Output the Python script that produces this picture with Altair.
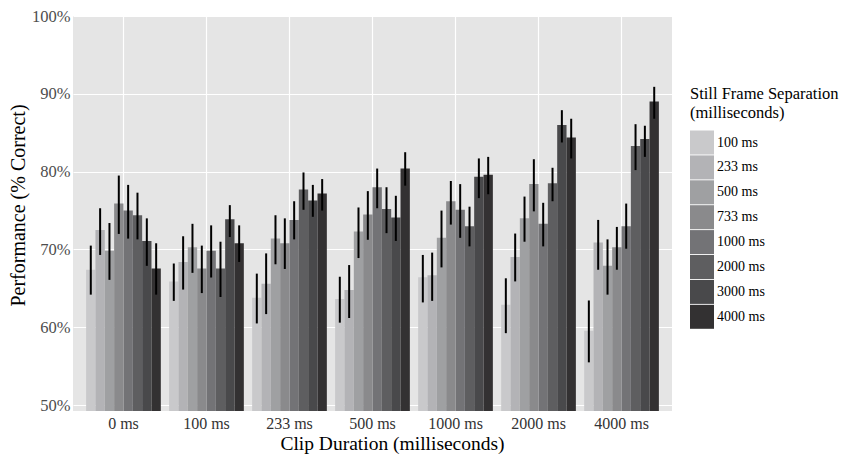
import altair as alt
import pandas as pd

clip_durations = ["0 ms", "100 ms", "233 ms", "500 ms", "1000 ms", "2000 ms", "4000 ms"]
separations = ["100 ms", "233 ms", "500 ms", "733 ms", "1000 ms", "2000 ms", "3000 ms", "4000 ms"]

# mean performance (% correct), one list per clip duration, ordered by separation
perf_0 = [67.4, 72.5, 69.85, 75.9, 75.0, 74.4, 71.1, 67.55]
perf_100 = [65.9, 68.4, 70.3, 67.55, 69.85, 67.55, 73.9, 70.8]
perf_233 = [63.8, 65.6, 71.4, 70.8, 73.8, 77.7, 76.3, 77.2]
perf_500 = [63.65, 64.8, 72.3, 74.5, 78.0, 75.2, 74.1, 80.4]
perf_1000 = [66.45, 66.7, 71.5, 76.2, 75.1, 73.0, 79.35, 79.6]
perf_2000 = [62.9, 69.05, 74.0, 78.4, 73.3, 78.5, 86.0, 84.4]
perf_4000 = [59.55, 70.9, 67.9, 70.3, 73.0, 83.3, 84.2, 89.0]

# error bar lower / upper ends
lo_0 = [64.2, 69.3, 66.1, 72.0, 71.4, 71.3, 67.9, 64.2]
hi_0 = [70.5, 75.3, 73.4, 79.5, 78.3, 77.3, 74.0, 70.8]
lo_100 = [63.4, 64.85, 67.0, 64.4, 66.4, 63.9, 71.6, 68.4]
hi_100 = [68.2, 71.7, 73.3, 70.5, 73.1, 71.0, 75.7, 73.1]
lo_233 = [60.5, 61.7, 68.1, 67.5, 71.3, 75.1, 74.2, 75.0]
hi_233 = [66.9, 69.5, 74.4, 74.0, 76.2, 79.9, 78.3, 79.05]
lo_500 = [60.6, 61.2, 68.9, 71.25, 75.3, 72.1, 71.1, 78.2]
hi_500 = [66.5, 68.0, 75.4, 77.5, 80.4, 78.0, 76.9, 82.5]
lo_1000 = [63.2, 63.4, 67.7, 73.2, 71.5, 70.4, 76.6, 77.1]
hi_1000 = [69.3, 69.6, 75.0, 78.8, 78.4, 75.5, 81.7, 81.9]
lo_2000 = [59.25, 65.9, 71.0, 74.9, 70.4, 76.2, 83.75, 81.7]
hi_2000 = [66.3, 72.05, 76.8, 81.6, 76.0, 80.5, 87.9, 86.8]
lo_4000 = [55.5, 67.4, 64.2, 67.4, 70.1, 80.2, 81.9, 86.8]
hi_4000 = [63.45, 73.8, 71.3, 72.9, 75.9, 86.1, 85.9, 90.9]

y_ticks = [50, 60, 70, 80, 90, 100]
grey_colors = ["#C9C9CB", "#B3B3B6", "#9FA0A2", "#8A8A8C", "#737376", "#5E5E60", "#49494B", "#333132"]

perf_all = [perf_0, perf_100, perf_233, perf_500, perf_1000, perf_2000, perf_4000]
lo_all = [lo_0, lo_100, lo_233, lo_500, lo_1000, lo_2000, lo_4000]
hi_all = [hi_0, hi_100, hi_233, hi_500, hi_1000, hi_2000, hi_4000]

rows = []
for c, p, l, h in zip(clip_durations, perf_all, lo_all, hi_all):
    for s, pv, lv, hv in zip(separations, p, l, h):
        rows.append({"clip": c, "sep": s, "perf": pv, "lo": lv, "hi": hv})
df = pd.DataFrame(rows)

FONT = "Liberation Serif"

x_enc = alt.X("clip:N", sort=clip_durations,
              scale=alt.Scale(paddingInner=0.1, paddingOuter=0.158),
              axis=alt.Axis(title="Clip Duration (milliseconds)", labelAngle=0,
                            bandPosition=0.5, ticks=False, domain=False,
                            labelFontSize=16, labelColor="#333333", labelPadding=4,
                            titleFontSize=19.5, titleFontWeight="normal", titleColor="#000000",
                            titlePadding=3, titleX=319, titleAlign="center",
                            grid=True, gridColor="#FFFFFF", gridWidth=1.2))
xo_enc = alt.XOffset("sep:N", sort=separations, scale=alt.Scale(paddingInner=0, paddingOuter=0))
y_scale = alt.Scale(domain=[49.25, 100], zero=False, nice=False)

bars = alt.Chart(df).mark_bar(clip=True).encode(
    x=x_enc,
    xOffset=xo_enc,
    y=alt.Y("perf:Q", scale=y_scale,
            axis=alt.Axis(title="Performance (% Correct)", values=y_ticks,
                          labelExpr="datum.value + '%'", ticks=False, domain=False,
                          labelFontSize=16.5, labelColor="#4D4D4D", labelPadding=3,
                          titleFontSize=20, titleFontWeight="normal", titleColor="#000000",
                          titlePadding=3, titleY=189,
                          grid=True, gridColor="#FFFFFF", gridWidth=1.2)),
    color=alt.Color("sep:N", sort=separations,
                    scale=alt.Scale(domain=separations, range=grey_colors),
                    legend=alt.Legend(title=["Still Frame Separation", "(milliseconds)"],
                                      orient="none", legendX=617, legendY=70,
                                      symbolType="square", symbolSize=576,
                                      symbolStrokeWidth=0, symbolOpacity=1,
                                      rowPadding=0.9, labelOffset=3,
                                      labelFontSize=14, labelColor="#000000",
                                      titleFontSize=16.5, titleFontWeight="normal",
                                      titleColor="#000000", titleLineHeight=19,
                                      titlePadding=9)),
)

errs = alt.Chart(df).mark_rule(color="#000000", strokeWidth=2, clip=True).encode(
    x=alt.X("clip:N", sort=clip_durations),
    xOffset=xo_enc,
    y=alt.Y("lo:Q", scale=y_scale),
    y2="hi:Q",
)

chart = alt.layer(bars, errs).properties(
    width=599, height=395,
    autosize=alt.AutoSizeParams(type="none"),
    padding={"left": 65, "top": 8, "right": 167, "bottom": 45},
).configure(
    font=FONT
).configure_view(
    fill="#E5E5E5", strokeWidth=0
).configure_axis(
    labelFont=FONT, titleFont=FONT
).configure_legend(
    labelFont=FONT, titleFont=FONT
)

chart.save("out.html", embed_options={"renderer": "svg", "actions": False})
